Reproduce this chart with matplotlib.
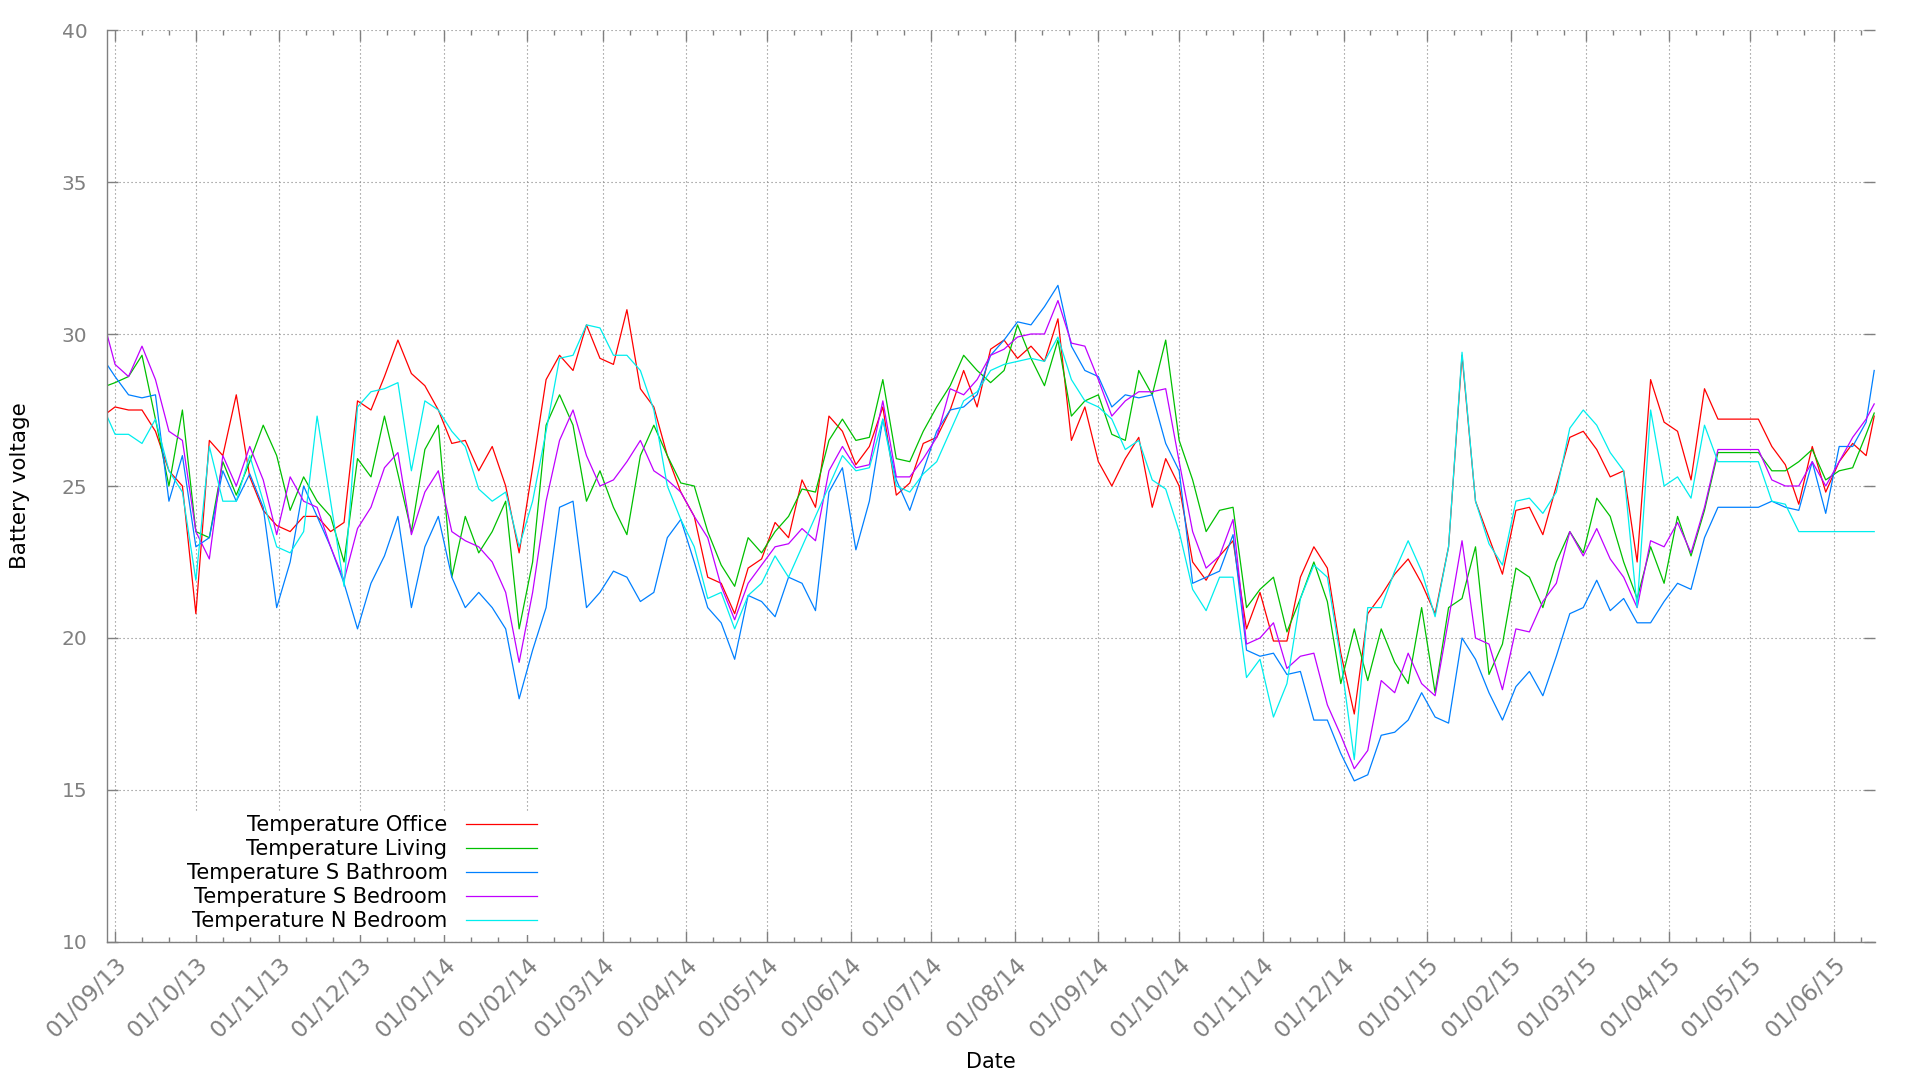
import numpy as np
import pandas as pd
import matplotlib
matplotlib.use("Agg")
import matplotlib.pyplot as plt
import matplotlib.dates as mdates

# sample dates: start, every 5 days from 01/09/13, end
dates = pd.DatetimeIndex(
    [pd.Timestamp("2013-08-29")]
    + list(pd.date_range("2013-09-01", periods=131, freq="5D"))
    + [pd.Timestamp("2015-06-16")]
)

office = [
    27.4,
    27.6, 27.5, 27.5, 26.8, 25.5, 25.0, 20.8, 26.5, 26.0, 28.0,
    25.3, 24.2, 23.7, 23.5, 24.0, 24.0, 23.5, 23.8, 27.8, 27.5,
    28.6, 29.8, 28.7, 28.3, 27.5, 26.4, 26.5, 25.5, 26.3, 25.0,
    22.8, 25.6, 28.5, 29.3, 28.8, 30.3, 29.2, 29.0, 30.8, 28.2,
    27.6, 26.0, 24.8, 24.0, 22.0, 21.8, 20.8, 22.3, 22.6, 23.8,
    23.3, 25.2, 24.3, 27.3, 26.8, 25.7, 26.3, 27.6, 24.7, 25.1,
    26.4, 26.6, 27.5, 28.8, 27.6, 29.5, 29.8, 29.2, 29.6, 29.1,
    30.5, 26.5, 27.6, 25.8, 25.0, 25.9, 26.6, 24.3, 25.9, 25.0,
    22.5, 21.9, 22.7, 23.2, 20.3, 21.5, 19.9, 19.9, 22.0, 23.0,
    22.3, 19.5, 17.5, 20.8, 21.4, 22.1, 22.6, 21.8, 20.8, 23.0,
    29.3, 24.5, 23.3, 22.1, 24.2, 24.3, 23.4, 25.0, 26.6, 26.8,
    26.2, 25.3, 25.5, 22.5, 28.5, 27.1, 26.8, 25.2, 28.2, 27.2,
    27.2, 27.2, 27.2, 26.3, 25.7, 24.4, 26.3, 24.8, 25.8, 26.4,
    26.0,
    27.3,
]

living = [
    28.3,
    28.4, 28.6, 29.3, 27.2, 25.0, 27.5, 23.5, 23.3, 25.8, 24.7,
    25.8, 27.0, 26.0, 24.2, 25.3, 24.5, 24.0, 22.5, 25.9, 25.3,
    27.3, 25.4, 23.5, 26.2, 27.0, 22.0, 24.0, 22.8, 23.5, 24.5,
    20.3, 22.5, 27.0, 28.0, 27.0, 24.5, 25.5, 24.3, 23.4, 26.0,
    27.0, 26.0, 25.1, 25.0, 23.5, 22.4, 21.7, 23.3, 22.8, 23.5,
    24.0, 24.9, 24.8, 26.5, 27.2, 26.5, 26.6, 28.5, 25.9, 25.8,
    26.8, 27.6, 28.3, 29.3, 28.8, 28.4, 28.8, 30.3, 29.2, 28.3,
    29.8, 27.3, 27.8, 28.0, 26.7, 26.5, 28.8, 28.0, 29.8, 26.5,
    25.2, 23.5, 24.2, 24.3, 21.0, 21.6, 22.0, 20.2, 21.3, 22.5,
    21.2, 18.5, 20.3, 18.6, 20.3, 19.2, 18.5, 21.0, 18.2, 21.0,
    21.3, 23.0, 18.8, 19.8, 22.3, 22.0, 21.0, 22.5, 23.5, 22.8,
    24.6, 24.0, 22.5, 21.3, 23.0, 21.8, 24.0, 22.7, 24.2, 26.1,
    26.1, 26.1, 26.1, 25.5, 25.5, 25.8, 26.2, 25.2, 25.5, 25.6,
    26.7,
    27.4,
]

s_bathroom = [
    29.0,
    28.6, 28.0, 27.9, 28.0, 24.5, 26.0, 23.0, 23.3, 25.5, 24.5,
    25.4, 24.3, 21.0, 22.5, 25.0, 24.0, 23.0, 21.8, 20.3, 21.8,
    22.7, 24.0, 21.0, 23.0, 24.0, 22.0, 21.0, 21.5, 21.0, 20.3,
    18.0, 19.6, 21.0, 24.3, 24.5, 21.0, 21.5, 22.2, 22.0, 21.2,
    21.5, 23.3, 23.9, 22.5, 21.0, 20.5, 19.3, 21.4, 21.2, 20.7,
    22.0, 21.8, 20.9, 24.8, 25.6, 22.9, 24.5, 27.2, 25.2, 24.2,
    25.5, 26.8, 27.5, 27.6, 28.0, 29.3, 29.8, 30.4, 30.3, 30.9,
    31.6, 29.6, 28.8, 28.6, 27.6, 28.0, 27.9, 28.0, 26.4, 25.5,
    21.8, 22.0, 22.2, 23.4, 19.6, 19.4, 19.5, 18.8, 18.9, 17.3,
    17.3, 16.2, 15.3, 15.5, 16.8, 16.9, 17.3, 18.2, 17.4, 17.2,
    20.0, 19.3, 18.2, 17.3, 18.4, 18.9, 18.1, 19.4, 20.8, 21.0,
    21.9, 20.9, 21.3, 20.5, 20.5, 21.2, 21.8, 21.6, 23.3, 24.3,
    24.3, 24.3, 24.3, 24.5, 24.3, 24.2, 25.8, 24.1, 26.3, 26.3,
    27.1,
    28.8,
]

s_bedroom = [
    30.0,
    29.0, 28.6, 29.6, 28.5, 26.8, 26.5, 23.5, 22.6, 26.0, 25.0,
    26.3, 25.2, 23.4, 25.3, 24.5, 24.3, 23.0, 21.9, 23.6, 24.3,
    25.6, 26.1, 23.4, 24.8, 25.5, 23.5, 23.2, 23.0, 22.5, 21.5,
    19.2, 21.5, 24.5, 26.5, 27.5, 26.0, 25.0, 25.2, 25.8, 26.5,
    25.5, 25.2, 24.8, 24.0, 23.3, 21.7, 20.6, 21.8, 22.4, 23.0,
    23.1, 23.6, 23.2, 25.5, 26.3, 25.6, 25.7, 27.8, 25.3, 25.3,
    25.9, 26.6, 28.2, 28.0, 28.5, 29.3, 29.5, 29.9, 30.0, 30.0,
    31.1, 29.7, 29.6, 28.5, 27.3, 27.8, 28.1, 28.1, 28.2, 25.8,
    23.5, 22.3, 22.7, 23.9, 19.8, 20.0, 20.5, 19.0, 19.4, 19.5,
    17.8, 16.8, 15.7, 16.3, 18.6, 18.2, 19.5, 18.5, 18.1, 20.6,
    23.2, 20.0, 19.8, 18.3, 20.3, 20.2, 21.2, 21.8, 23.5, 22.7,
    23.6, 22.6, 22.0, 21.0, 23.2, 23.0, 23.8, 22.8, 24.3, 26.2,
    26.2, 26.2, 26.2, 25.2, 25.0, 25.0, 25.8, 25.0, 25.8, 26.6,
    27.2,
    27.7,
]

n_bedroom = [
    27.3,
    26.7, 26.7, 26.4, 27.2, 25.5, 24.8, 21.9, 26.3, 24.5, 24.5,
    26.0, 24.5, 23.0, 22.8, 23.5, 27.3, 24.5, 21.7, 27.6, 28.1,
    28.2, 28.4, 25.5, 27.8, 27.5, 26.8, 26.3, 24.9, 24.5, 24.8,
    23.0, 24.5, 26.8, 29.2, 29.3, 30.3, 30.2, 29.3, 29.3, 28.8,
    27.5, 25.0, 23.9, 23.0, 21.3, 21.5, 20.3, 21.4, 21.8, 22.7,
    22.0, 23.0, 24.0, 25.0, 26.0, 25.5, 25.6, 27.2, 25.0, 24.8,
    25.4, 25.8, 26.8, 27.8, 28.1, 28.8, 29.0, 29.1, 29.2, 29.1,
    29.9, 28.5, 27.8, 27.6, 27.2, 26.2, 26.5, 25.2, 24.9, 23.5,
    21.6, 20.9, 22.0, 22.0, 18.7, 19.3, 17.4, 18.5, 21.3, 22.4,
    22.0, 19.3, 16.0, 21.0, 21.0, 22.2, 23.2, 22.2, 20.7, 23.0,
    29.4, 24.5, 23.1, 22.4, 24.5, 24.6, 24.1, 24.8, 26.9, 27.5,
    27.0, 26.1, 25.5, 21.0, 27.5, 25.0, 25.3, 24.6, 27.0, 25.8,
    25.8, 25.8, 25.8, 24.5, 24.4, 23.5, 23.5, 23.5, 23.5, 23.5,
    23.5,
    23.5,
]

series_names = ["Temperature Office", "Temperature Living",
                "Temperature S Bathroom", "Temperature S Bedroom",
                "Temperature N Bedroom"]
series_values = [office, living, s_bathroom, s_bedroom, n_bedroom]
colors = ["#ff0000", "#00c000", "#0080ff", "#c000ff", "#00eeee"]

grey = "#808080"
plt.rcParams["font.family"] = ["DejaVu Sans"]

fig = plt.figure(figsize=(19.17, 10.8), dpi=100)
ax = fig.add_axes([0.05566, 0.12778, 0.92243, 0.84444])

for name, vals, c in zip(series_names, series_values, colors):
    ax.plot(dates, vals, color=c, lw=0.9, label=name)

ax.set_xlim(pd.Timestamp("2013-08-28 21:36"), pd.Timestamp("2015-06-16 07:00"))
ax.set_ylim(10, 40)
ax.set_yticks(np.arange(10, 41, 5))

ax.xaxis.set_major_locator(mdates.MonthLocator())
ax.xaxis.set_minor_locator(mdates.DayLocator(bymonthday=[11, 21]))
ax.xaxis.set_major_formatter(mdates.DateFormatter("%d/%m/%y"))

for s in ["top", "right"]:
    ax.spines[s].set_visible(False)
for s in ["left", "bottom"]:
    ax.spines[s].set_color(grey)
    ax.spines[s].set_linewidth(1.0)

ax.tick_params(which="both", direction="in", top=True, right=True,
               color=grey, width=1.0)
ax.tick_params(which="major", length=8)
ax.tick_params(which="minor", length=3.8)
ax.tick_params(axis="y", labelsize=14.5, labelcolor=grey, pad=14)
ax.tick_params(axis="x", labelsize=16.5, labelcolor=grey, pad=8)
for lbl in ax.get_xticklabels():
    lbl.set_rotation(45)
    lbl.set_ha("right")
    lbl.set_va("top")
    lbl.set_rotation_mode("anchor")

ax.grid(True, which="major", color=grey, linestyle=(0, (1, 2.6)), linewidth=0.8)
ax.set_axisbelow(True)

ax.set_xlabel("Date", fontsize=15, va="center")
ax.xaxis.set_label_coords(0.5, -0.1314)
ax.set_ylabel("Battery voltage", fontsize=15.5, va="center")
ax.yaxis.set_label_coords(-0.0489, 0.5)

leg = ax.legend(loc="lower right", bbox_to_anchor=(0.2457, 0.0077),
                borderaxespad=0, markerfirst=False, fontsize=15,
                handlelength=3.4, handletextpad=0.9, labelspacing=0.19,
                borderpad=0.2, frameon=True, fancybox=False,
                framealpha=1.0, facecolor="white", edgecolor="none")

fig.savefig("out.png", dpi=100)
